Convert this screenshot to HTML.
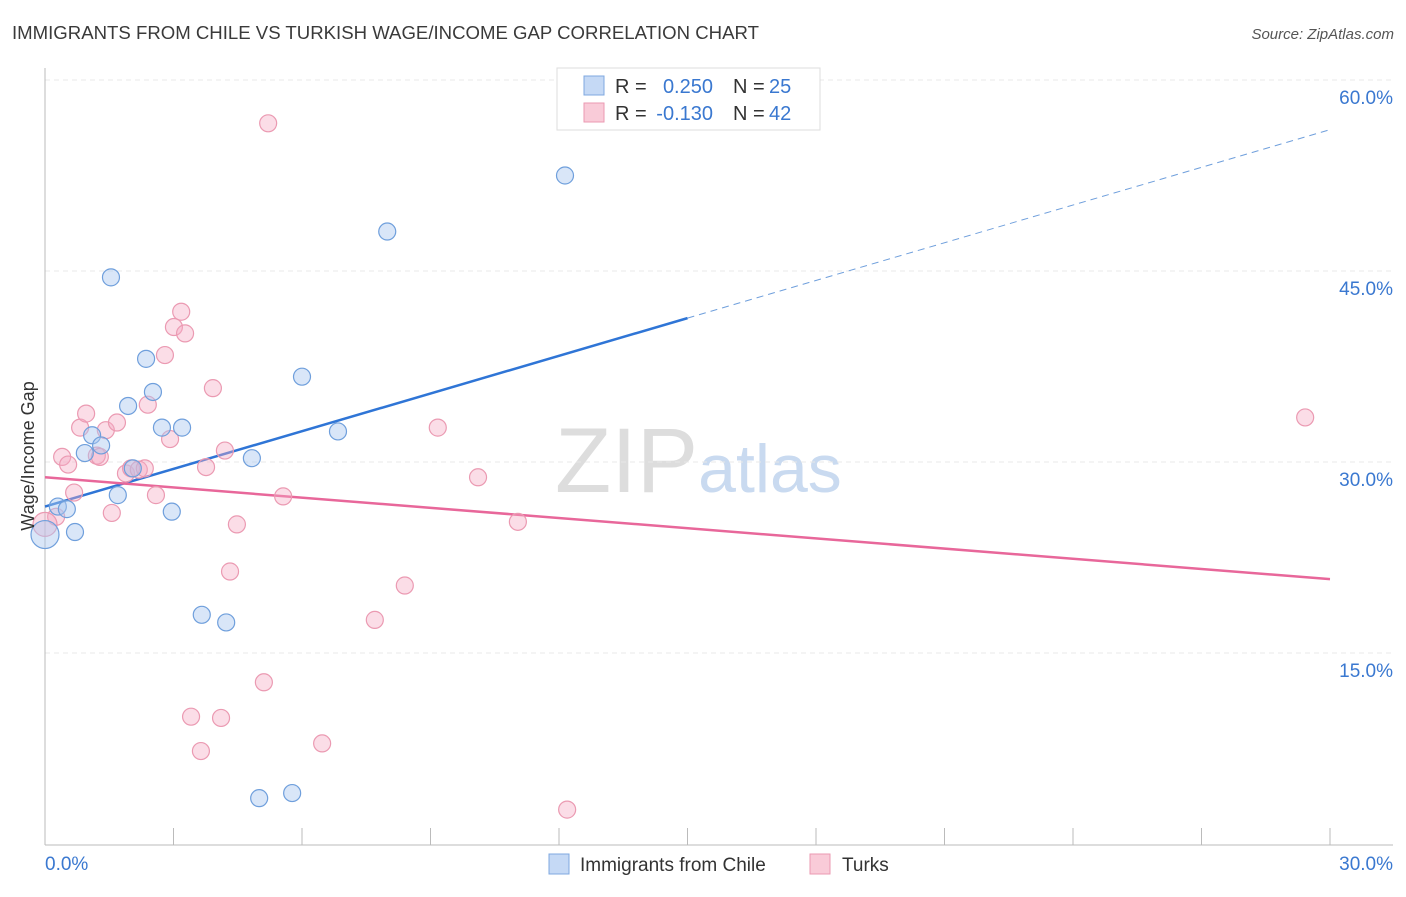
<!DOCTYPE html>
<html><head><meta charset="utf-8"><style>
body{margin:0;background:#fff;font-family:"Liberation Sans",sans-serif;}
svg text{font-family:"Liberation Sans",sans-serif;}
</style></head><body>
<svg id="chart" width="1406" height="892" xmlns="http://www.w3.org/2000/svg">
<text x="12" y="39" font-size="18.6" fill="#3a3a3a">IMMIGRANTS FROM CHILE VS TURKISH WAGE/INCOME GAP CORRELATION CHART</text>
<text x="1394" y="39" font-size="15" fill="#555" text-anchor="end" font-style="italic">Source: ZipAtlas.com</text>
<text x="555" y="492" font-size="92" fill="#ddd" font-family="Liberation Serif">ZIP<tspan fill="#c9daf0" font-family="Liberation Sans" font-size="68">atlas</tspan></text>
<g id="grid"></g>
<g id="axes"></g>
<g id="lines"></g>
<g id="pts"></g>
<text transform="translate(34,456) rotate(-90)" font-size="18" fill="#333" text-anchor="middle">Wage/Income Gap</text>
<g>
<rect x="557" y="68" width="263" height="62" fill="#fff" stroke="#ddd"/>
<rect x="584" y="76" width="20" height="19" fill="#c5d9f5" stroke="#7fa8e0"/>
<text x="615" y="93" font-size="20" fill="#333">R =</text>
<text x="713" y="93" font-size="20" fill="#3a78d0" text-anchor="end">0.250</text>
<text x="733" y="93" font-size="20" fill="#333">N =</text>
<text x="769" y="93" font-size="20" fill="#3a78d0">25</text>
<rect x="584" y="103" width="20" height="19" fill="#f9cbd8" stroke="#eb9ab2"/>
<text x="615" y="120" font-size="20" fill="#333">R =</text>
<text x="713" y="120" font-size="20" fill="#3a78d0" text-anchor="end">-0.130</text>
<text x="733" y="120" font-size="20" fill="#333">N =</text>
<text x="769" y="120" font-size="20" fill="#3a78d0">42</text>
</g>
<g>
<rect x="549" y="854" width="20" height="20" fill="#c5d9f5" stroke="#7fa8e0"/>
<text x="580" y="871" font-size="19" fill="#333">Immigrants from Chile</text>
<rect x="810" y="854" width="20" height="20" fill="#f9cbd8" stroke="#eb9ab2"/>
<text x="842" y="871" font-size="19" fill="#333">Turks</text>
</g>
</svg>
<script>
const blueX=[0.30,0.51,0.70,0.93,1.10,1.31,1.54,1.70,1.94,2.05,2.36,2.52,2.73,2.96,3.20,3.66,4.23,4.83,5.00,5.77,6.00,6.84,7.99,12.14,0.0];
const blueY=[26.5,26.3,24.5,30.7,32.1,31.3,44.5,27.4,34.4,29.5,38.1,35.5,32.7,26.1,32.7,18.0,17.4,30.3,3.6,4.0,36.7,32.4,48.1,52.5,24.3];
const pinkX=[0.26,0.40,0.54,0.68,0.82,0.96,1.21,1.28,1.42,1.56,1.68,1.89,2.01,2.19,2.33,2.40,2.59,2.80,2.92,3.01,3.18,3.27,3.41,3.64,3.76,3.92,4.11,4.20,4.32,4.48,5.11,5.21,5.56,6.47,7.70,8.40,9.17,10.11,11.04,12.19,29.42,0.0];
const pinkY=[25.7,30.4,29.8,27.6,32.7,33.8,30.5,30.4,32.5,26.0,33.1,29.1,29.5,29.4,29.5,34.5,27.4,38.4,31.8,40.6,41.8,40.1,10.0,7.3,29.6,35.8,9.9,30.9,21.4,25.1,12.7,56.6,27.3,7.9,17.6,20.3,32.7,28.8,25.3,2.7,33.5,25.1];
const blueTrend=[26.5,56.1];
const pinkTrend=[28.8,20.8];
const yTicks=[15,30,45,60];
const xTickLabels=["0.0%","30.0%"];
const NS="http://www.w3.org/2000/svg";
const sx=v=>45+v*1285/30;
const sy=v=>844-v*191/15;
function mk(tag,attrs,parent){const e=document.createElementNS(NS,tag);for(const k in attrs)e.setAttribute(k,attrs[k]);document.getElementById(parent).appendChild(e);return e;}
yTicks.forEach(t=>{
 const l=mk('line',{x1:45,x2:1393,y1:sy(t),y2:sy(t),stroke:'#e8e8e8','stroke-dasharray':'5,4'},'grid');
 
 
 const tx=mk('text',{x:1393,y:sy(t)+24,'font-size':19,fill:'#3a78d0','text-anchor':'end'},'grid');
 tx.textContent=t.toFixed(1)+'%';
 
 
});
let a=mk('line',{x1:45,x2:45,y1:68,y2:845,stroke:'#bbb'},'axes');


a=mk('line',{x1:45,x2:1393,y1:845,y2:845,stroke:'#bbb'},'axes');


for(let i=0;i<=10;i++){const t=mk('line',{x1:sx(i*3),x2:sx(i*3),y1:828,y2:845,stroke:'#bbb'},'axes');
 
 }
[[0,'start',45],[30,'end',1393]].forEach((d,i)=>{const t=mk('text',{x:d[2],y:870,'font-size':19,fill:'#3a78d0','text-anchor':d[1]},'axes');t.textContent=xTickLabels[i];
 
 });
function pt(x,y,fill,stroke,r,name){const c=mk('circle',{cx:sx(x),cy:sy(y),r:r,fill:fill,stroke:stroke,'stroke-width':1.2},'pts');
 
 }
pinkX.forEach((x,i)=>pt(x,pinkY[i],'rgba(246,170,195,0.4)','#eb9ab2',x===0?12:8.5,'turks-point'));
blueX.forEach((x,i)=>pt(x,blueY[i],'rgba(170,200,240,0.45)','#6f9fdc',x===0?14:8.5,'chile-point'));
const bm=15;
const bmid=blueTrend[0]+(blueTrend[1]-blueTrend[0])*bm/30;
let ln=mk('line',{x1:sx(0),y1:sy(blueTrend[0]),x2:sx(bm),y2:sy(bmid),stroke:'#2f75d6','stroke-width':2.5},'lines');


ln=mk('line',{x1:sx(bm),y1:sy(bmid),x2:sx(30),y2:sy(blueTrend[1]),stroke:'#6f9fdc','stroke-width':1,'stroke-dasharray':'7,5'},'lines');


ln=mk('line',{x1:sx(0),y1:sy(pinkTrend[0]),x2:sx(30),y2:sy(pinkTrend[1]),stroke:'#e8679a','stroke-width':2.5},'lines');


</script>
</body></html>
